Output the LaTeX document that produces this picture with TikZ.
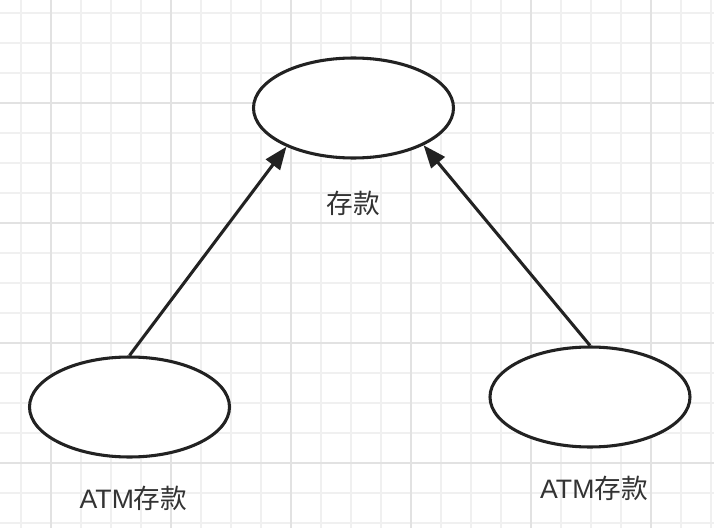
\documentclass[tikz,border=0pt]{standalone}
\usepackage{xcolor}
\usepackage{fontspec}
\setmainfont{Liberation Sans}
\newfontfamily\cjk{Noto Sans CJK SC}
\usepackage{tikz}
\usetikzlibrary{shapes.geometric, arrows.meta, positioning}

\definecolor{gridminor}{HTML}{F0F0F0}
\definecolor{gridmajor}{HTML}{E2E2E2}
\definecolor{inkdark}{HTML}{222222}
\definecolor{textdark}{HTML}{333333}

\begin{document}
\begin{tikzpicture}[x=0.75pt,y=-0.75pt,
    usecase/.style={ellipse,draw=inkdark,line width=2.3pt,fill=white,minimum width=150pt,minimum height=75pt,inner sep=0pt},
    caption/.style={anchor=base,text=textdark,font=\fontsize{20pt}{22pt}\selectfont,inner sep=0pt},
    link/.style={-{Triangle[length=17pt,width=13pt]},line width=2.3pt,draw=inkdark}]
    \useasboundingbox (0,0) rectangle (714,528);
    \fill[white] (0,0) rectangle (714,528);

    % Grid
    \foreach \gx in {21,51,...,711} \draw[gridminor,line width=1.1pt] (\gx,0) -- (\gx,528);
    \foreach \gy in {13,43,...,523} \draw[gridminor,line width=1.1pt] (0,\gy) -- (714,\gy);
    \foreach \gx in {51,171,...,651} \draw[gridmajor,line width=1.1pt] (\gx,0) -- (\gx,528);
    \foreach \gy in {103,223,...,463} \draw[gridmajor,line width=1.1pt] (0,\gy) -- (714,\gy);

    % Use cases
    \node[usecase] (deposit) at (353.5,108) {};
    \node[usecase] (atmleft) at (129.5,407) {};
    \node[usecase] (atmright) at (590,397) {};

    % Labels
    \node[caption] (lbldeposit) at (353,213) {\cjk 存款};
    \node[caption] (lblatmleft) at (133.5,508) {ATM{\cjk 存款}};
    \node[caption] (lblatmright) at (594,498) {ATM{\cjk 存款}};

    % Generalisation
    \draw[link] (atmleft.north) -- (deposit.210);
    \draw[link] (atmright.north) -- (deposit.332);
\end{tikzpicture}
\end{document}
